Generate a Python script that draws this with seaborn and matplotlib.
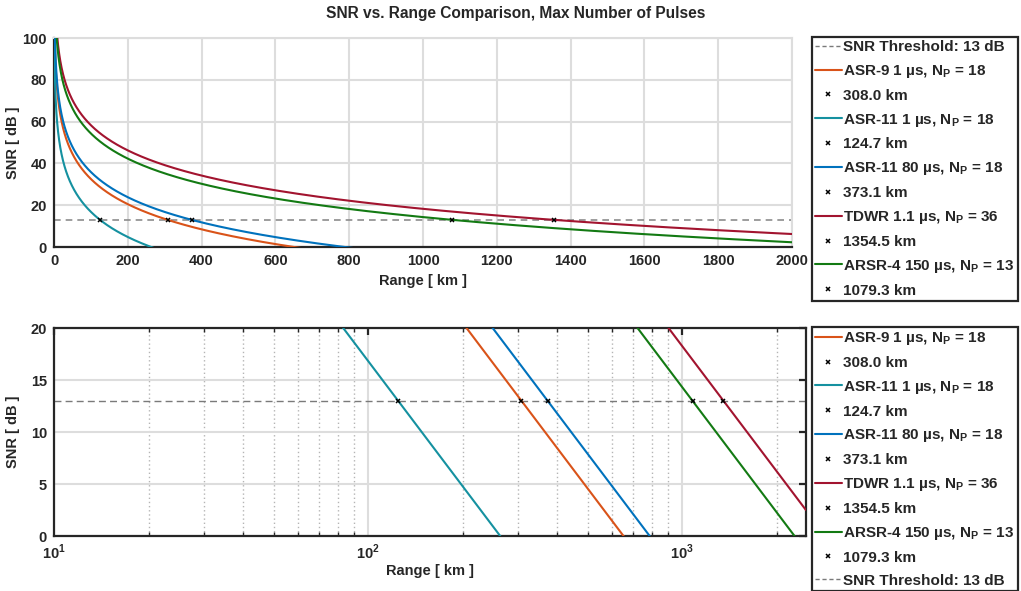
import numpy as np
import pandas as pd
import matplotlib
matplotlib.use('Agg')
import matplotlib.pyplot as plt
from matplotlib.lines import Line2D
from matplotlib.ticker import FixedLocator, FixedFormatter, NullFormatter
import seaborn as sns

# data
radars = ['ASR-9 1 µs, N$_\\mathregular{P}$ = 18',
          'ASR-11 1 µs, N$_\\mathregular{P}$ = 18',
          'ASR-11 80 µs, N$_\\mathregular{P}$ = 18',
          'TDWR 1.1 µs, N$_\\mathregular{P}$ = 36',
          'ARSR-4 150 µs, N$_\\mathregular{P}$ = 13']
det_range_km = [308.0, 124.7, 373.1, 1354.5, 1079.3]
colors = ['#D95319', '#1591A0', '#0072BD', '#A2142F', '#137A13']
snr_threshold = 13

sns.set_style('white')
plt.rcParams['font.family'] = ['Liberation Sans', 'DejaVu Sans']
plt.rcParams['font.weight'] = 'bold'
plt.rcParams['mathtext.fontset'] = 'custom'
plt.rcParams['mathtext.rm'] = 'Liberation Sans:bold'
plt.rcParams['mathtext.bf'] = 'Liberation Sans:bold'
plt.rcParams['text.color'] = '#262626'

# SNR curves from the radar equation (R^-4), anchored at each detection range
rng_lin = np.linspace(0.5, 2000, 4000)
rng_log = np.geomspace(10, 2480, 2000)
rows_lin, rows_log = [], []
for name, rd in zip(radars, det_range_km):
    rows_lin.append(pd.DataFrame({'Range': rng_lin,
                                  'SNR': snr_threshold + 40 * np.log10(rd / rng_lin),
                                  'Radar': name}))
    rows_log.append(pd.DataFrame({'Range': rng_log,
                                  'SNR': snr_threshold + 40 * np.log10(rd / rng_log),
                                  'Radar': name}))
df_lin = pd.concat(rows_lin)
df_log = pd.concat(rows_log)
palette = dict(zip(radars, colors))

fig = plt.figure(figsize=(10.21, 5.91), dpi=100)
ax1 = fig.add_axes([0.0529, 0.582, 0.7228, 0.3537])
ax2 = fig.add_axes([0.0529, 0.093, 0.7365, 0.352])

dark = '#262626'
gridc = '#dddddd'

# ---------- top: linear ----------
ax1.axhline(snr_threshold, color='#8c8c8c', ls='--', lw=1.2, dashes=(4, 3), zorder=2)
sns.lineplot(data=df_lin, x='Range', y='SNR', hue='Radar', palette=palette,
             estimator=None, sort=False, legend=False, lw=1.5, ax=ax1, zorder=3)
ax1.plot(det_range_km, [snr_threshold] * len(det_range_km), 'x', color='black',
         ms=3.5, mew=1.1, zorder=4)
ax1.set_xlim(0, 2000)
ax1.set_ylim(0, 100)
ax1.set_xticks(np.arange(0, 2001, 200))
ax1.set_yticks(np.arange(0, 101, 20))
ax1.grid(True, color=gridc, lw=1.5)
ax1.set_axisbelow(True)
for s in ['top', 'right']:
    ax1.spines[s].set_color(gridc)
    ax1.spines[s].set_linewidth(1.5)
for s in ['left', 'bottom']:
    ax1.spines[s].set_color(dark)
    ax1.spines[s].set_linewidth(1.6)
ax1.tick_params(direction='in', length=5, width=1.6, color=dark, labelsize=10.5,
                labelcolor=dark, pad=5)
ax1.set_xlabel('Range [ km ]', fontsize=10.5, fontweight='bold', labelpad=4)
ax1.set_ylabel('SNR [ dB ]', fontsize=10.5, fontweight='bold', labelpad=2)

# ---------- bottom: log ----------
ax2.axhline(snr_threshold, color='#7a7a7a', ls='--', lw=1.0, dashes=(5, 3), zorder=2)
sns.lineplot(data=df_log, x='Range', y='SNR', hue='Radar', palette=palette,
             estimator=None, sort=False, legend=False, lw=1.5, ax=ax2, zorder=3)
ax2.plot(det_range_km, [snr_threshold] * len(det_range_km), 'x', color='black',
         ms=3.5, mew=1.1, zorder=4)
ax2.set_xscale('log')
ax2.set_xlim(10, 2480)
ax2.set_ylim(0, 20)
ax2.set_yticks([0, 5, 10, 15, 20])
ax2.xaxis.set_major_locator(FixedLocator([10, 100, 1000]))
ax2.xaxis.set_major_formatter(FixedFormatter(['10$^{1}$', '10$^{2}$', '10$^{3}$']))
minors = [m * d for d in [10, 100, 1000] for m in range(2, 10) if m * d < 2480]
ax2.xaxis.set_minor_locator(FixedLocator(minors))
ax2.xaxis.set_minor_formatter(NullFormatter())
ax2.grid(True, which='major', color=gridc, lw=1.5)
ax2.grid(True, which='minor', axis='x', color='#b5b5b5', lw=1.0, ls=(0, (1, 2)))
ax2.set_axisbelow(True)
for s in ax2.spines.values():
    s.set_color(dark)
    s.set_linewidth(1.6)
ax2.tick_params(which='major', direction='in', length=5, width=1.6, color=dark,
                labelsize=10.5, labelcolor=dark, top=True, right=True, pad=5)
ax2.tick_params(which='minor', direction='in', length=3, width=1.0, color=dark,
                top=True, bottom=True)
ax2.set_xlabel('Range [ km ]', fontsize=10.5, fontweight='bold', labelpad=1)
ax2.set_ylabel('SNR [ dB ]', fontsize=10.5, fontweight='bold', labelpad=8)

fig.suptitle('SNR vs. Range Comparison, Max Number of Pulses', x=0.505, y=0.99,
             fontsize=11.2, fontweight='bold', color=dark)

# ---------- legends ----------
thr_handle = Line2D([], [], color='#7a7a7a', ls='--', lw=1.0, dashes=(3, 2))
thr_label = f'SNR Threshold: {snr_threshold} dB'
handles, labels = [], []
for name, rd, c in zip(radars, det_range_km, colors):
    handles.append(Line2D([], [], color=c, lw=1.5))
    labels.append(name)
    handles.append(Line2D([], [], ls='none', marker='x', color='black', ms=3.5, mew=1.1))
    labels.append(f'{rd:.1f} km')

leg_kw = dict(loc='upper left', mode='expand', borderaxespad=0, fancybox=False,
              framealpha=1, edgecolor=dark, fontsize=11, handlelength=1.75,
              handletextpad=0.1, labelspacing=0.58, borderpad=0.2)
leg1 = fig.legend([thr_handle] + handles, [thr_label] + labels,
                  bbox_to_anchor=(812 / 1021, 1 - 37 / 591, 206 / 1021, 0), **leg_kw)
leg2 = fig.legend(handles + [thr_handle], labels + [thr_label],
                  bbox_to_anchor=(812 / 1021, 1 - 327 / 591, 206 / 1021, 0), **leg_kw)
for leg in (leg1, leg2):
    leg.get_frame().set_linewidth(1.6)
    for t in leg.get_texts():
        t.set_fontweight('bold')
        t.set_color(dark)

fig.savefig('out.png', dpi=100)
